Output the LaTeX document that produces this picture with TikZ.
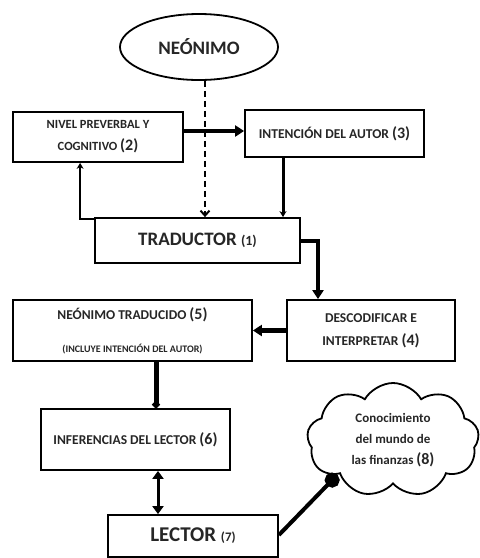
\documentclass[tikz,border=0pt]{standalone}
\usepackage{fontspec}
\setmainfont{Carlito}
\usetikzlibrary{shapes.geometric,shapes.symbols,arrows.meta,calc}
\newcommand\myfs[2][]{\fontsize{#2}{#2}\selectfont}
\begin{document}
\begin{tikzpicture}[x=1pt,y=-1pt,
  box/.style={draw,line width=1.8pt,rectangle,inner sep=0pt,align=center,text=black!85},
  thinarrow/.style={line width=2.6pt,-{Stealth[length=6pt,width=7pt]}},
  fatarrow/.style={line width=4.5pt,-{Triangle[length=9pt,width=11pt]}},
]
\useasboundingbox[fill=white] (0,0) rectangle (480,558);

\node[ellipse,draw,line width=1.8pt,minimum width=158pt,minimum height=66pt,
  font=\bfseries\fontsize{19}{19}\selectfont,text=black!85] (neo) at (199,47) {NEÓNIMO};

\node[box,minimum width=170pt,minimum height=50pt,font=\bfseries\fontsize{12.5}{22}\selectfont]
  (nivel) at (98,137) {NIVEL PREVERBAL Y\\COGNITIVO {\myfs{16}(2)}};

\node[box,minimum width=179pt,minimum height=47pt,font=\bfseries\fontsize{13.5}{16}\selectfont]
  (inten) at (334.5,133.5) {INTENCIÓN DEL AUTOR {\myfs{16}(3)}};

\node[box,minimum width=205pt,minimum height=45pt,font=\bfseries\fontsize{19}{19}\selectfont]
  (trad) at (197.5,240.5) {TRADUCTOR {\myfs{14}(1)}};

\node[box,minimum width=239pt,minimum height=61pt,font=\bfseries\fontsize{13.5}{33}\selectfont]
  (neotrad) at (132.5,330.5) {NEÓNIMO TRADUCIDO {\myfs{16}(5)}\\{\myfs{10}(INCLUYE INTENCIÓN DEL AUTOR)}};

\node[box,minimum width=168pt,minimum height=61pt,font=\bfseries\fontsize{13.5}{23}\selectfont]
  (desc) at (371,330.5) {DESCODIFICAR E\\INTERPRETAR {\myfs{16}(4)}};

\node[box,minimum width=189pt,minimum height=61pt,font=\bfseries\fontsize{13.5}{16}\selectfont]
  (infer) at (135.5,439.5) {INFERENCIAS DEL LECTOR {\myfs{16}(6)}};

\node[box,minimum width=170pt,minimum height=42pt,font=\bfseries\fontsize{21}{21}\selectfont]
  (lector) at (193,536) {LECTOR {\myfs{13}(7)}};

\node[cloud,draw,line width=1.8pt,cloud puffs=9,cloud puff arc=120,cloud ignores aspect,
  minimum width=172pt,minimum height=114pt,align=center,text=black!85,
  font=\bfseries\fontsize{13}{21}\selectfont] (cloud) at (393,440)
  {Conocimiento\\del mundo de\\las finanzas {\myfs{16}(8)}};

% connectors
\draw[line width=2pt,dash pattern=on 6pt off 4pt,-{Straight Barb[length=5pt,width=9pt]}]
  ([xshift=6pt]neo.south) -- ([xshift=6pt]neo.south |- trad.north);
\draw[fatarrow,line width=4pt] ([yshift=6pt]nivel.east) -- ([yshift=6pt]nivel.east -| inten.west);
\draw[thinarrow] ([yshift=-2pt]trad.north west) -| ([xshift=68pt]nivel.south west);
\draw[thinarrow,line width=3pt] ([xshift=-51.5pt]inten.south) -- ([xshift=-51.5pt]inten.south |- trad.north);
\draw[fatarrow,line width=4pt] (trad.east) -| ([xshift=-53pt]desc.north);
\draw[fatarrow] (desc.west) -- (neotrad.east);
\draw[line width=5pt,-{Circle[length=7pt]}] ([xshift=23.5pt]neotrad.south) -- ([xshift=23.5pt]neotrad.south |- infer.north);
\draw[line width=3pt,{Triangle[length=8pt,width=11pt]}-{Triangle[length=8pt,width=11pt]}]
  ([xshift=22.5pt]infer.south) -- ([xshift=22.5pt]infer.south |- lector.north);
\draw[line width=4pt,-{Circle[length=15pt]}] ([yshift=1pt]lector.east) -- (cloud.212);
\end{tikzpicture}
\end{document}
